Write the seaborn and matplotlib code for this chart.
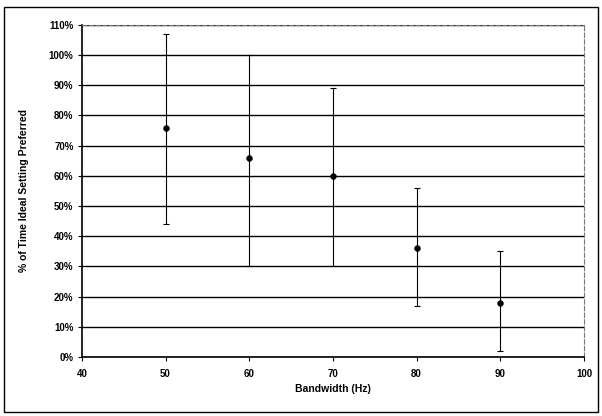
import matplotlib
matplotlib.use("Agg")
import matplotlib.pyplot as plt
import seaborn as sns
import pandas as pd
from matplotlib.ticker import PercentFormatter
from matplotlib.patches import Rectangle

# values
bandwidth = [50, 60, 70, 80, 90]
preferred = [76, 66, 60, 36, 18]
err_low = [32, 36, 30, 19, 16]
err_high = [31, 34, 29, 20, 17]

df = pd.DataFrame({"bandwidth": bandwidth, "preferred": preferred})

sns.set_style("white")
plt.rcParams["font.family"] = ["Liberation Sans", "DejaVu Sans"]
plt.rcParams["text.color"] = "black"
plt.rcParams["axes.labelcolor"] = "black"
plt.rcParams["xtick.color"] = "black"
plt.rcParams["ytick.color"] = "black"

fig = plt.figure(figsize=(6.02, 4.16), dpi=100)
ax = fig.add_axes([0.136, 0.142, 0.834, 0.798])

# black horizontal gridlines
ax.set_axisbelow(True)
ax.yaxis.grid(True, color="black", linewidth=1.0)

ax.errorbar(df["bandwidth"], df["preferred"], yerr=[err_low, err_high],
            fmt="none", ecolor="black", elinewidth=0.8, capsize=2, capthick=0.8)
sns.scatterplot(data=df, x="bandwidth", y="preferred", ax=ax, color="black",
                s=18, edgecolor="black", zorder=3)

ax.set_xlim(40, 100)
ax.set_ylim(0, 110)
ax.set_xticks(range(40, 101, 10))
ax.set_yticks(range(0, 111, 10))
ax.yaxis.set_major_formatter(PercentFormatter(decimals=0))
ax.tick_params(axis="both", labelsize=7, length=3, direction="out",
               bottom=True, left=True, width=0.8, pad=3)
ax.tick_params(axis="x", pad=6)
for lab in ax.get_xticklabels() + ax.get_yticklabels():
    lab.set_fontweight("bold")

ax.set_xlabel("Bandwidth (Hz)", fontsize=7.5, fontweight="bold", labelpad=3)
ax.set_ylabel("% of Time Ideal Setting Preferred", fontsize=7.5,
              fontweight="bold", labelpad=14)

for side in ["left", "bottom"]:
    ax.spines[side].set_color("black")
    ax.spines[side].set_linewidth(1.2)
for side in ["top", "right"]:
    ax.spines[side].set_color("#777777")
    ax.spines[side].set_linewidth(0.8)
    ax.spines[side].set_linestyle((0, (4, 2)))

# outer frame around the whole chart
fig.patches.append(Rectangle((0.007, 0.01), 0.986, 0.972, transform=fig.transFigure,
                             fill=False, edgecolor="black", linewidth=1.0))

fig.savefig("out.png", dpi=100)
